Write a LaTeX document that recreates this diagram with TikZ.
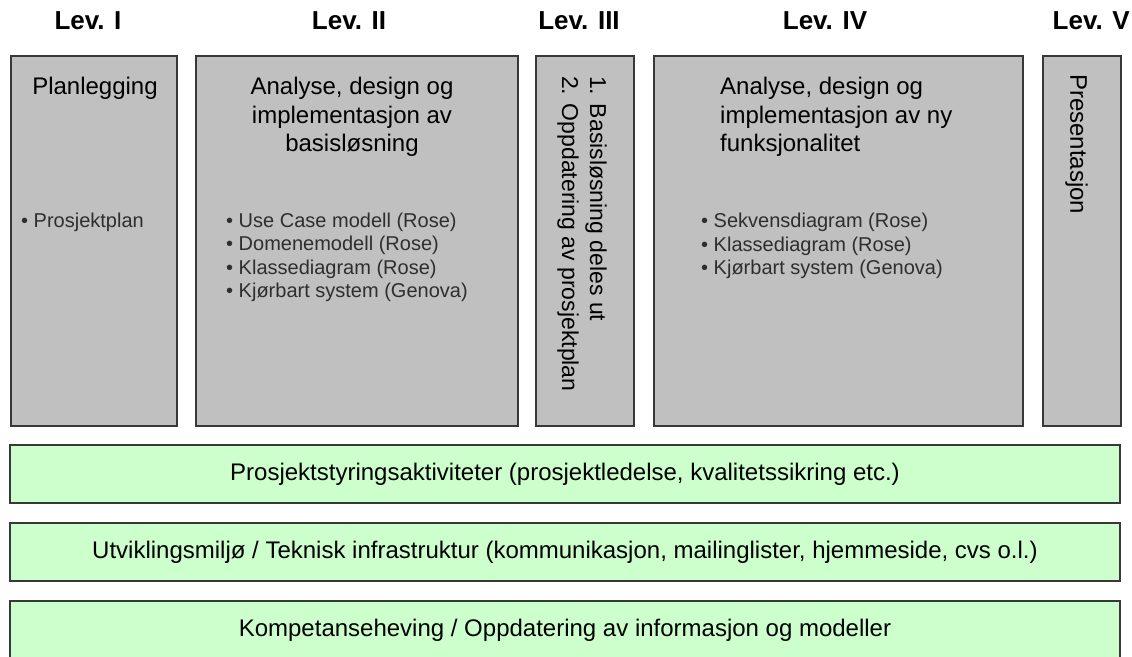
\documentclass[tikz,border=0pt]{standalone}
\usepackage{fontspec}
\setmainfont{Liberation Sans}
\definecolor{phasegray}{HTML}{C0C0C0}
\definecolor{supportgreen}{HTML}{CCFFCC}
\definecolor{boxline}{HTML}{383838}
\definecolor{itemgray}{HTML}{2E2E2E}
\begin{document}
\begin{tikzpicture}[x=1pt,y=-1pt,
  phase/.style={draw=boxline, line width=1.5pt, fill=phasegray, inner sep=0, anchor=north west},
  support/.style={draw=boxline, line width=1.5pt, fill=supportgreen, inner sep=0,
    minimum width=1110, minimum height=58, font=\fontsize{24}{28}\selectfont},
  levlabel/.style={font=\bfseries\fontsize{26}{30}\selectfont, anchor=base, inner sep=0},
  title/.style={font=\fontsize{24}{28.5}\selectfont, inner sep=0},
  items/.style={font=\fontsize{20}{23.6}\selectfont, align=left, anchor=north west,
    inner sep=0, text=itemgray},
  vertical/.style={font=\fontsize{23}{28}\selectfont, rotate=-90, align=left,
    anchor=north west, inner sep=0}
]
\path[clip] (0,0) rectangle (1132,656);
\useasboundingbox (0,0) rectangle (1132,656);
\fill[white] (0,0) rectangle (1132,656);

% level headings
\node[levlabel] (l1) at (88,29) {Lev. I};
\node[levlabel] (l2) at (349,29) {Lev. II};
\node[levlabel] (l3) at (579,29) {Lev. III};
\node[levlabel] (l4) at (825,29) {Lev. IV};
\node[levlabel, anchor=base east] (l5) at (1130,29) {Lev. V};

% phase columns
\node[phase, minimum width=166, minimum height=370] (p1) at (10,55) {};
\node[phase, minimum width=322, minimum height=370] (p2) at (195,55) {};
\node[phase, minimum width=98,  minimum height=370] (p3) at (535,55) {};
\node[phase, minimum width=369, minimum height=370] (p4) at (653,55) {};
\node[phase, minimum width=78,  minimum height=370] (p5) at (1042,55) {};

% column titles
\node[title, anchor=base] (t1) at (95,94) {Planlegging};
\node[title, align=center, anchor=north] (t2) at (352,77)
  {Analyse, design og\\implementasjon av\\basisløsning};
\node[title, align=left, anchor=north west] (t4) at (720,77)
  {Analyse, design og\\implementasjon av ny\\funksjonalitet};

% deliverables
\node[items] (i1) at (21,212.5) {• Prosjektplan};
\node[items] (i2) at (226,212.5)
  {• Use Case modell (Rose)\\• Domenemodell (Rose)\\• Klassediagram (Rose)\\• Kjørbart system (Genova)};
\node[items] (i4) at (701,213)
  {• Sekvensdiagram (Rose)\\• Klassediagram (Rose)\\• Kjørbart system (Genova)};

% rotated column texts
\node[vertical] (v3) at (607,76) {1. Basisløsning deles ut\\2. Oppdatering av prosjektplan};
\node[vertical, font=\fontsize{24}{28}\selectfont] (v5) at (1088,74) {Presentasjon};

% supporting activities
\node[support] (s1) at (565,474) {Prosjektstyringsaktiviteter (prosjektledelse, kvalitetssikring etc.)};
\node[support] (s2) at (565,552) {Utviklingsmiljø / Teknisk infrastruktur (kommunikasjon, mailinglister, hjemmeside, cvs o.l.)};
\node[support] (s3) at (565,630) {Kompetanseheving / Oppdatering av informasjon og modeller};
\end{tikzpicture}
\end{document}
